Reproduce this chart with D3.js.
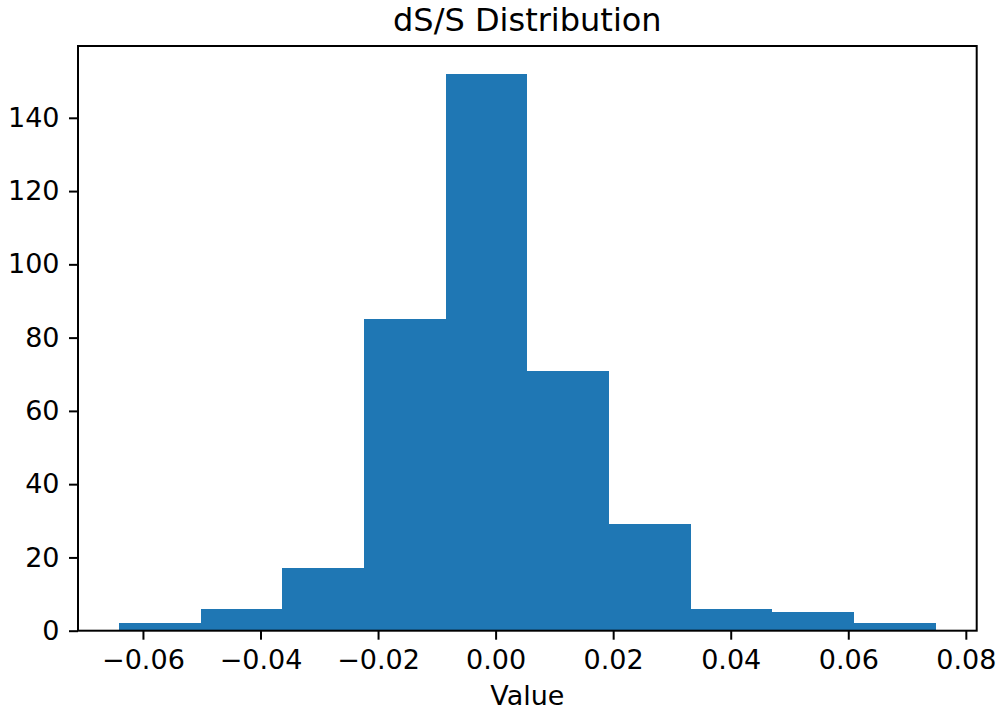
<!DOCTYPE html>
<html>
<head>
  <meta charset="utf-8">
  <script src="https://d3js.org/d3.v7.min.js"></script>
  <title>dS/S Distribution</title>
  <style>
    body { margin: 0; background: #fff; }
    text { font-family: "DejaVu Sans", sans-serif; fill: #000; }
  </style>
</head>
<body>
  <div id="chart"></div>
  <script>
    // histogram bins
    const binEdges = [-0.0641, -0.0502, -0.0363, -0.0224, -0.0085, 0.0054, 0.0193, 0.0332, 0.0471, 0.0610, 0.0749];
    const counts = [2, 6, 17, 85, 152, 71, 29, 6, 5, 2];
    const xTicks = [-0.06, -0.04, -0.02, 0.00, 0.02, 0.04, 0.06, 0.08];
    const yTicks = [0, 20, 40, 60, 80, 100, 120, 140];

    const W = 999, H = 715;
    const margin = { top: 46, right: 22.3, bottom: 84.3, left: 78 };
    const width = W - margin.left - margin.right,
          height = H - margin.top - margin.bottom;

    const svg = d3.select("#chart")
      .append("svg")
        .attr("width", W)
        .attr("height", H);
    const g = svg.append("g")
        .attr("transform", `translate(${margin.left},${margin.top})`);

    // matplotlib style 5% margins on x, top only on y
    const lo = binEdges[0], hi = binEdges[binEdges.length - 1], span = hi - lo;
    const x = d3.scaleLinear()
      .domain([lo - 0.05 * span, hi + 0.05 * span])
      .range([0, width]);
    const y = d3.scaleLinear()
      .domain([0, d3.max(counts) * 1.05])
      .range([height, 0]);

    const bins = counts.map((c, i) => ({ x0: binEdges[i], x1: binEdges[i + 1], n: c }));

    g.selectAll("rect.bar")
      .data(bins)
      .join("rect")
        .attr("class", "bar")
        .attr("x", d => x(d.x0))
        .attr("y", d => y(d.n))
        .attr("width", d => x(d.x1) - x(d.x0))
        .attr("height", d => y(0) - y(d.n))
        .attr("fill", "#1f77b4")
        .attr("shape-rendering", "crispEdges");

    const fmt = d3.format(".2f");

    // x axis
    const xAxis = g.append("g")
      .attr("transform", `translate(0,${height})`)
      .call(d3.axisBottom(x).tickValues(xTicks).tickFormat(fmt)
        .tickSizeInner(9).tickSizeOuter(0).tickPadding(10));
    xAxis.select(".domain").remove();
    xAxis.selectAll(".tick line").attr("stroke", "#000").attr("stroke-width", 2);
    xAxis.selectAll(".tick text").style("font-size", "27px");

    // y axis
    const yAxis = g.append("g")
      .call(d3.axisLeft(y).tickValues(yTicks)
        .tickSizeInner(9).tickSizeOuter(0).tickPadding(9.5));
    yAxis.select(".domain").remove();
    yAxis.selectAll(".tick line").attr("stroke", "#000").attr("stroke-width", 2);
    yAxis.selectAll(".tick text").style("font-size", "27px");

    // frame
    g.append("rect")
      .attr("x", 0).attr("y", 0)
      .attr("width", width).attr("height", height)
      .attr("fill", "none")
      .attr("stroke", "#000")
      .attr("stroke-width", 2);

    // title and label
    svg.append("text")
      .attr("x", margin.left + width / 2)
      .attr("y", 31)
      .attr("text-anchor", "middle")
      .style("font-size", "32px")
      .text("dS/S Distribution");

    svg.append("text")
      .attr("x", margin.left + width / 2)
      .attr("y", 705)
      .attr("text-anchor", "middle")
      .style("font-size", "27px")
      .text("Value");
  </script>
</body>
</html>
